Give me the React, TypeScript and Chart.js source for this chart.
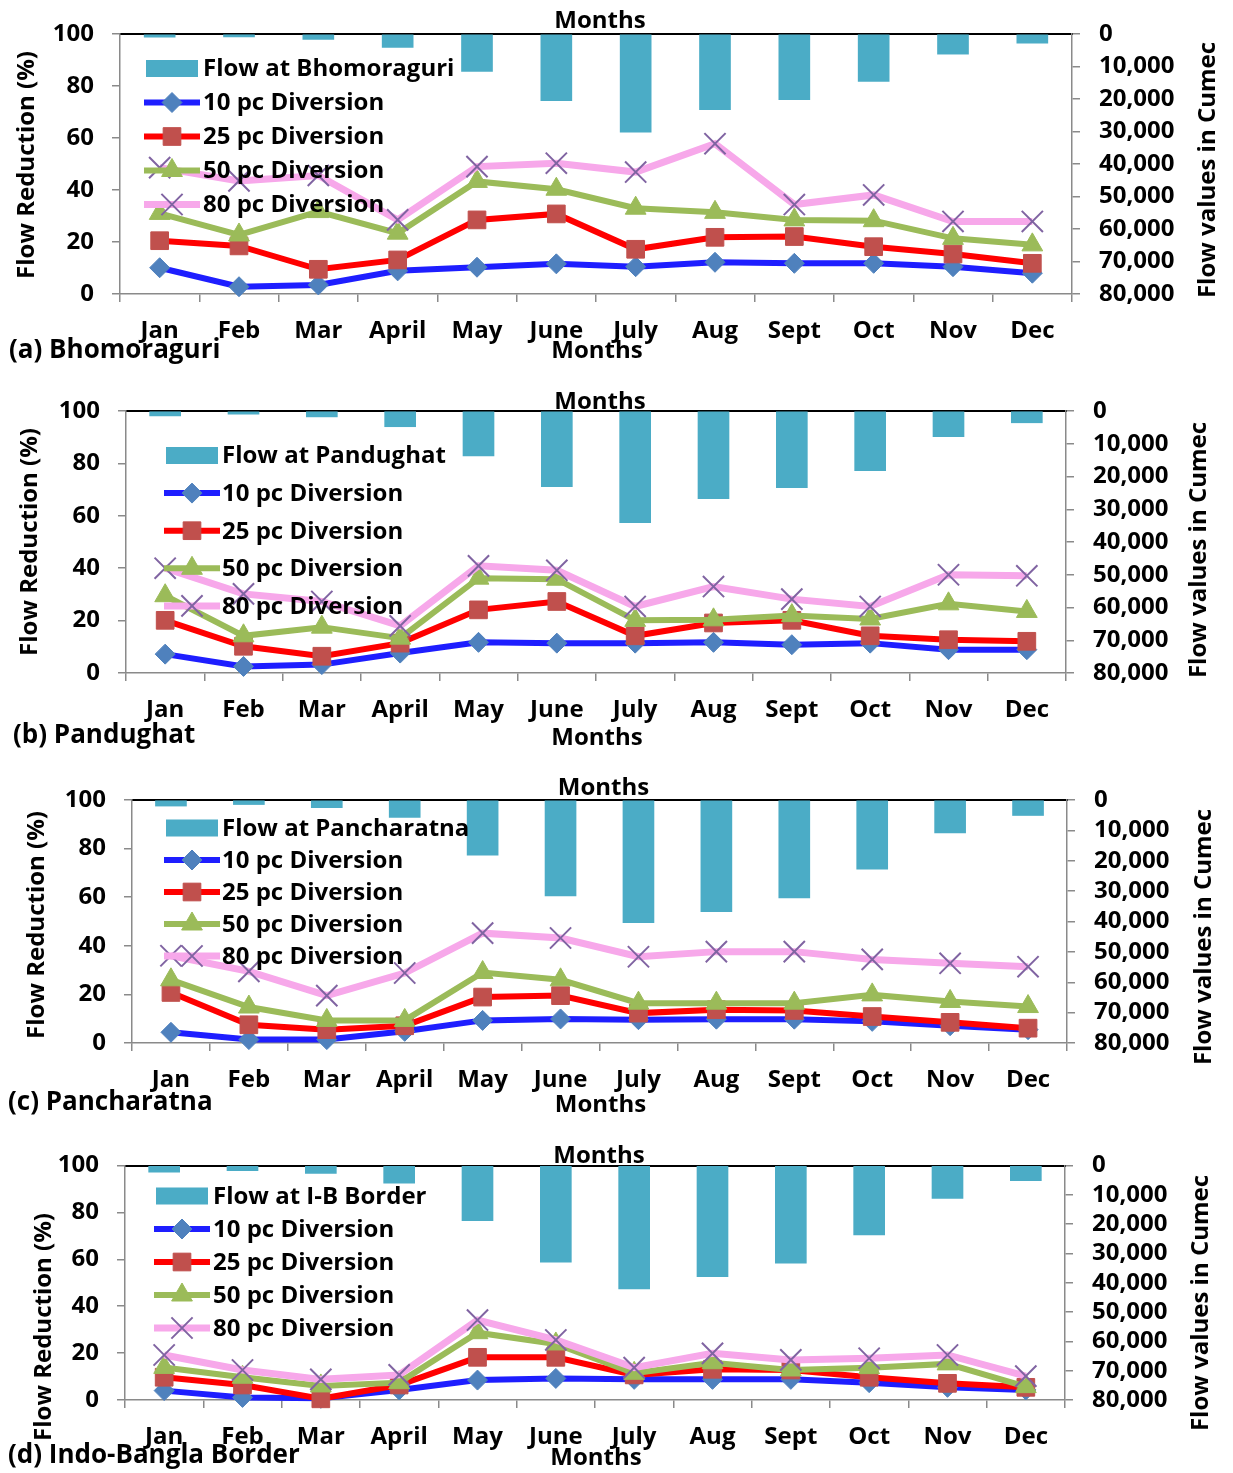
import React, { useEffect, useRef } from 'react';
import { Chart, registerables } from 'chart.js';

Chart.register(...registerables);

// ---------------------------------------------------------------------------
// Data
// ---------------------------------------------------------------------------
const MONTHS = ['Jan', 'Feb', 'Mar', 'April', 'May', 'June', 'July', 'Aug', 'Sept', 'Oct', 'Nov', 'Dec'];
const REDUCTION_TICKS = [0, 20, 40, 60, 80, 100];
const FLOW_TICKS = [0, 10000, 20000, 30000, 40000, 50000, 60000, 70000, 80000];
const DIVERSION_LABELS = ['10 pc Diversion', '25 pc Diversion', '50 pc Diversion', '80 pc Diversion'];

// (a) Bhomoraguri
const flowBhomoraguri = [1000, 900, 1700, 4100, 11500, 20500, 30200, 23300, 20200, 14600, 6200, 2800];
const bhomoraguri10 = [10.1, 2.8, 3.5, 8.9, 10.3, 11.6, 10.5, 12.2, 11.8, 11.8, 10.5, 8.0];
const bhomoraguri25 = [20.5, 18.5, 9.5, 13.1, 28.5, 30.8, 17.2, 21.8, 22.1, 18.2, 15.4, 11.8];
const bhomoraguri50 = [31.0, 22.7, 31.7, 23.4, 43.3, 40.3, 33.0, 31.4, 28.5, 28.2, 21.4, 18.9];
const bhomoraguri80 = [48.6, 43.5, 45.6, 28.5, 49.0, 50.3, 46.9, 57.8, 34.4, 38.1, 27.9, 27.9];

// (b) Pandughat
const flowPandughat = [1500, 1000, 1800, 4800, 13700, 23100, 34100, 26800, 23400, 18200, 7800, 3600];
const pandughat10 = [7.2, 2.5, 3.2, 7.6, 11.7, 11.4, 11.4, 11.7, 10.8, 11.4, 8.9, 8.9];
const pandughat25 = [20.1, 10.2, 6.4, 11.4, 24.1, 27.3, 14.2, 19.1, 20.1, 14.2, 12.7, 12.1];
const pandughat50 = [29.5, 14.2, 17.5, 13.3, 36.2, 35.8, 20.1, 20.3, 21.9, 20.6, 26.4, 23.5];
const pandughat80 = [40.0, 30.2, 27.3, 18.0, 40.9, 39.2, 25.4, 33.0, 28.2, 25.4, 37.5, 37.1];

// (c) Pancharatna
const flowPancharatna = [2000, 1500, 2500, 5700, 18200, 31600, 40400, 36800, 32200, 22800, 10800, 5100];
const pancharatna10 = [4.4, 1.4, 1.4, 4.8, 9.3, 9.9, 9.6, 9.8, 9.8, 8.9, 7.1, 5.5];
const pancharatna25 = [20.8, 7.5, 5.5, 7.1, 18.9, 19.5, 12.3, 13.7, 13.4, 10.9, 8.5, 6.1];
const pancharatna50 = [26.0, 14.8, 9.3, 9.3, 29.0, 26.0, 16.4, 16.4, 16.4, 19.8, 17.1, 15.0];
const pancharatna80 = [35.9, 29.5, 19.5, 28.8, 45.2, 43.2, 35.5, 37.6, 37.6, 34.4, 32.8, 31.4];

// (d) Indo-Bangla Border
const flowBorder = [2300, 1800, 2700, 6000, 18800, 33000, 42100, 37900, 33300, 23700, 11200, 5200];
const border10 = [4.0, 1.1, 0.7, 4.3, 8.5, 9.2, 8.8, 8.8, 8.8, 7.4, 5.4, 4.3];
const border25 = [9.7, 6.4, 0.5, 6.4, 18.2, 18.2, 10.7, 13.1, 12.8, 9.7, 7.1, 5.4];
const border50 = [13.9, 9.7, 6.0, 7.4, 28.7, 23.9, 11.4, 15.9, 12.8, 13.8, 15.4, 5.7];
const border80 = [19.2, 12.8, 8.8, 10.7, 34.1, 25.6, 13.8, 19.9, 17.1, 17.8, 19.2, 10.2];

// ---------------------------------------------------------------------------
// Styling
// ---------------------------------------------------------------------------
const PAGE_WIDTH = 1233;
const PAGE_HEIGHT = 1473;
const FONT_FAMILY = '"Open Sans", "Noto Sans", "Liberation Sans", sans-serif';
const TEXT_SIZE = 24;
const CAPTION_SIZE = 26;
const AXIS_GREY = '#8a8a8a';
const BAR_COLOR = '#4BACC6';
const BAR_THICKNESS = 31;

type MarkerStyle = 'rectRot' | 'rect' | 'triangle' | 'crossRot';

interface SeriesStyle {
  line: string;
  lineWidth: number;
  marker: MarkerStyle;
  radius: number;
  fill: string;
  edge: string;
  edgeWidth: number;
}

const SERIES_STYLES: SeriesStyle[] = [
  { line: '#1E1EFF', lineWidth: 6, marker: 'rectRot', radius: 10, fill: '#4F81BD', edge: '#4F81BD', edgeWidth: 1 },
  { line: '#FF0000', lineWidth: 6, marker: 'rect', radius: 12.5, fill: '#C0504D', edge: '#C0504D', edgeWidth: 1 },
  { line: '#9BBB59', lineWidth: 6, marker: 'triangle', radius: 12, fill: '#9BBB59', edge: '#9BBB59', edgeWidth: 1 },
  { line: '#F7A8EA', lineWidth: 7, marker: 'crossRot', radius: 15, fill: 'rgba(0,0,0,0)', edge: '#8064A2', edgeWidth: 2 },
];

interface PanelSpec {
  barLabel: string;
  caption: string;
  flow: number[];
  series: number[][];
  canvasTop: number;
  canvasHeight: number;
  plot: { left: number; right: number; top: number; bottom: number };
  legend: { x: number; textX: number; firstRow: number; rowStep: number };
  monthsTopY: number;
  monthsBottomY: number;
  captionAt: { x: number; y: number };
  leftTitleAt: { x: number; y: number };
  rightTitleAt: { x: number; y: number };
}

const PANELS: PanelSpec[] = [
  {
    barLabel: 'Flow at Bhomoraguri',
    caption: '(a) Bhomoraguri',
    flow: flowBhomoraguri,
    series: [bhomoraguri10, bhomoraguri25, bhomoraguri50, bhomoraguri80],
    canvasTop: 0,
    canvasHeight: 372,
    plot: { left: 120, right: 1072, top: 34, bottom: 294 },
    legend: { x: 146, textX: 203, firstRow: 68.5, rowStep: 34 },
    monthsTopY: 28,
    monthsBottomY: 358,
    captionAt: { x: 9, y: 358 },
    leftTitleAt: { x: 27, y: 165 },
    rightTitleAt: { x: 1208, y: 170 },
  },
  {
    barLabel: 'Flow at Pandughat',
    caption: '(b) Pandughat',
    flow: flowPandughat,
    series: [pandughat10, pandughat25, pandughat50, pandughat80],
    canvasTop: 376,
    canvasHeight: 380,
    plot: { left: 126, right: 1066, top: 411, bottom: 673 },
    legend: { x: 166, textX: 222, firstRow: 455.5, rowStep: 37.6 },
    monthsTopY: 409,
    monthsBottomY: 745,
    captionAt: { x: 13, y: 743 },
    leftTitleAt: { x: 30, y: 542 },
    rightTitleAt: { x: 1199, y: 550 },
  },
  {
    barLabel: 'Flow at Pancharatna',
    caption: '(c) Pancharatna',
    flow: flowPancharatna,
    series: [pancharatna10, pancharatna25, pancharatna50, pancharatna80],
    canvasTop: 760,
    canvasHeight: 364,
    plot: { left: 132, right: 1067, top: 800, bottom: 1043 },
    legend: { x: 166, textX: 222, firstRow: 828, rowStep: 32 },
    monthsTopY: 795,
    monthsBottomY: 1112,
    captionAt: { x: 8, y: 1110 },
    leftTitleAt: { x: 37, y: 925 },
    rightTitleAt: { x: 1204, y: 937 },
  },
  {
    barLabel: 'Flow at I-B Border',
    caption: '(d) Indo-Bangla Border',
    flow: flowBorder,
    series: [border10, border25, border50, border80],
    canvasTop: 1128,
    canvasHeight: PAGE_HEIGHT - 1128,
    plot: { left: 125, right: 1065, top: 1165.5, bottom: 1400 },
    legend: { x: 156, textX: 213, firstRow: 1196, rowStep: 33 },
    monthsTopY: 1163,
    monthsBottomY: 1465,
    captionAt: { x: 8, y: 1463 },
    leftTitleAt: { x: 44, y: 1327 },
    rightTitleAt: { x: 1201, y: 1303 },
  },
];

// ---------------------------------------------------------------------------
// Drawing helpers
// ---------------------------------------------------------------------------
function drawMarker(ctx: CanvasRenderingContext2D, s: SeriesStyle, x: number, y: number) {
  const r = s.radius;
  ctx.save();
  ctx.fillStyle = s.fill;
  ctx.strokeStyle = s.edge;
  ctx.lineWidth = s.edgeWidth;
  ctx.beginPath();
  if (s.marker === 'rectRot') {
    ctx.moveTo(x, y - r);
    ctx.lineTo(x + r, y);
    ctx.lineTo(x, y + r);
    ctx.lineTo(x - r, y);
    ctx.closePath();
    ctx.fill();
    ctx.stroke();
  } else if (s.marker === 'rect') {
    const h = r * Math.SQRT1_2;
    ctx.rect(x - h, y - h, 2 * h, 2 * h);
    ctx.fill();
    ctx.stroke();
  } else if (s.marker === 'triangle') {
    ctx.moveTo(x, y - r);
    ctx.lineTo(x + r * Math.sin((2 * Math.PI) / 3), y + r * 0.5);
    ctx.lineTo(x - r * Math.sin((2 * Math.PI) / 3), y + r * 0.5);
    ctx.closePath();
    ctx.fill();
    ctx.stroke();
  } else {
    const d = r * Math.SQRT1_2;
    ctx.moveTo(x - d, y - d);
    ctx.lineTo(x + d, y + d);
    ctx.moveTo(x + d, y - d);
    ctx.lineTo(x - d, y + d);
    ctx.stroke();
  }
  ctx.restore();
}

function boldFont(size: number) {
  return `bold ${size}px ${FONT_FAMILY}`;
}

function makeOverlay(spec: PanelSpec) {
  const dy = spec.canvasTop;
  return {
    id: 'panelOverlay',
    afterDatasetsDraw(chart: Chart) {
      const ctx = chart.ctx;
      const { x, textX, firstRow, rowStep } = spec.legend;
      ctx.save();
      ctx.font = boldFont(TEXT_SIZE);
      ctx.textAlign = 'left';
      ctx.textBaseline = 'middle';
      // bar entry
      const y0 = firstRow - dy;
      ctx.fillStyle = BAR_COLOR;
      ctx.fillRect(x, y0 - 8.5, 52, 17);
      ctx.fillStyle = '#000';
      ctx.fillText(spec.barLabel, textX, y0 + 1);
      // line entries
      SERIES_STYLES.forEach((s, i) => {
        const y = firstRow + rowStep * (i + 1) - dy;
        ctx.save();
        ctx.strokeStyle = s.line;
        ctx.lineWidth = s.lineWidth;
        ctx.beginPath();
        ctx.moveTo(x - 2, y);
        ctx.lineTo(x + 54, y);
        ctx.stroke();
        ctx.restore();
        drawMarker(ctx, s, x + 26, y);
        ctx.fillStyle = '#000';
        ctx.fillText(DIVERSION_LABELS[i], textX, y + 1);
      });
      ctx.restore();
    },
    afterDraw(chart: Chart) {
      const ctx = chart.ctx;
      const midX = (spec.plot.left + spec.plot.right) / 2;
      ctx.save();
      ctx.fillStyle = '#000';
      ctx.font = boldFont(TEXT_SIZE);
      ctx.textBaseline = 'alphabetic';
      ctx.textAlign = 'center';
      ctx.fillText('Months', midX + 4, spec.monthsTopY - dy);
      ctx.fillText('Months', midX + 1, spec.monthsBottomY - dy);

      ctx.font = boldFont(CAPTION_SIZE);
      ctx.textAlign = 'left';
      ctx.fillText(spec.caption, spec.captionAt.x, spec.captionAt.y - dy);

      ctx.font = boldFont(TEXT_SIZE);
      ctx.textAlign = 'center';
      ctx.textBaseline = 'middle';
      ctx.save();
      ctx.translate(spec.leftTitleAt.x, spec.leftTitleAt.y - dy);
      ctx.rotate(-Math.PI / 2);
      ctx.fillText('Flow Reduction (%)', 0, 0);
      ctx.restore();
      ctx.save();
      ctx.translate(spec.rightTitleAt.x, spec.rightTitleAt.y - dy);
      ctx.rotate(-Math.PI / 2);
      ctx.fillText('Flow values in Cumec', 0, 0);
      ctx.restore();
      ctx.restore();
    },
  };
}

function buildConfig(spec: PanelSpec): any {
  const plotTop = spec.plot.top - spec.canvasTop;
  const plotBottom = spec.plot.bottom - spec.canvasTop;
  const xAxisHeight = spec.canvasHeight - plotBottom;
  const tickFont = { family: FONT_FAMILY, size: TEXT_SIZE, weight: 'bold' as const };
  const sideGrid = { display: true, drawOnChartArea: false, drawTicks: true, tickLength: 8, color: AXIS_GREY, lineWidth: 1.5 };
  const sideBorder = { display: true, color: AXIS_GREY, width: 1.5 };

  const lineSets = spec.series.map((values, i) => {
    const s = SERIES_STYLES[i];
    return {
      type: 'line',
      label: DIVERSION_LABELS[i],
      data: values,
      xAxisID: 'x',
      yAxisID: 'y',
      borderColor: s.line,
      borderWidth: s.lineWidth,
      backgroundColor: s.fill,
      pointStyle: s.marker,
      pointRadius: s.radius,
      pointBackgroundColor: s.fill,
      pointBorderColor: s.edge,
      pointBorderWidth: s.edgeWidth,
      tension: 0,
      fill: false,
      clip: false,
      order: 4 - i,
    };
  });

  return {
    type: 'bar',
    data: {
      labels: MONTHS,
      datasets: [
        {
          type: 'bar',
          label: spec.barLabel,
          data: spec.flow,
          xAxisID: 'x2',
          yAxisID: 'y2',
          backgroundColor: BAR_COLOR,
          borderWidth: 0,
          barThickness: BAR_THICKNESS,
          grouped: false,
          order: 10,
        },
        ...lineSets,
      ],
    },
    options: {
      responsive: false,
      animation: false,
      devicePixelRatio: 1,
      events: [],
      layout: { padding: { top: plotTop, bottom: 0, left: 0, right: 0 } },
      plugins: { legend: { display: false }, tooltip: { enabled: false }, title: { display: false } },
      scales: {
        x: {
          type: 'category',
          position: 'bottom',
          offset: true,
          grid: { ...sideGrid, offset: true },
          border: sideBorder,
          ticks: { color: '#000', font: tickFont, padding: 15, maxRotation: 0, autoSkip: false },
          afterFit: (axis: any) => {
            axis.height = xAxisHeight;
          },
        },
        x2: {
          type: 'category',
          position: 'top',
          labels: MONTHS,
          offset: true,
          z: 1,
          grid: { display: false, drawTicks: false },
          border: { display: true, color: '#000', width: 2 },
          ticks: { display: false },
          afterFit: (axis: any) => {
            axis.height = 0;
          },
        },
        y: {
          type: 'linear',
          position: 'left',
          min: 0,
          max: 100,
          grid: sideGrid,
          border: sideBorder,
          ticks: { color: '#000', font: tickFont, padding: 18, autoSkip: false },
          afterBuildTicks: (axis: any) => {
            axis.ticks = REDUCTION_TICKS.map((v) => ({ value: v }));
          },
          afterFit: (axis: any) => {
            axis.width = spec.plot.left;
          },
        },
        y2: {
          type: 'linear',
          position: 'right',
          reverse: true,
          min: 0,
          max: 80000,
          grid: sideGrid,
          border: sideBorder,
          ticks: {
            color: '#000',
            font: tickFont,
            padding: 19,
            autoSkip: false,
            callback: (v: number | string) => Number(v).toLocaleString('en-US'),
          },
          afterBuildTicks: (axis: any) => {
            axis.ticks = FLOW_TICKS.map((v) => ({ value: v }));
          },
          afterFit: (axis: any) => {
            axis.width = PAGE_WIDTH - spec.plot.right;
          },
        },
      },
    },
    plugins: [makeOverlay(spec)],
  };
}

// ---------------------------------------------------------------------------
// Components
// ---------------------------------------------------------------------------
function Panel({ spec }: { spec: PanelSpec }) {
  const ref = useRef<HTMLCanvasElement | null>(null);
  useEffect(() => {
    const canvas = ref.current;
    if (!canvas) return;
    const chart = new Chart(canvas, buildConfig(spec));
    return () => chart.destroy();
  }, [spec]);
  return (
    <canvas
      ref={ref}
      width={PAGE_WIDTH}
      height={spec.canvasHeight}
      style={{ position: 'absolute', left: 0, top: spec.canvasTop, width: PAGE_WIDTH, height: spec.canvasHeight, display: 'block' }}
    />
  );
}

export default function App() {
  return (
    <div style={{ position: 'absolute', left: 0, top: 0, width: PAGE_WIDTH, height: PAGE_HEIGHT, background: '#fff', overflow: 'hidden' }}>
      {PANELS.map((p) => (
        <Panel key={p.caption} spec={p} />
      ))}
    </div>
  );
}
